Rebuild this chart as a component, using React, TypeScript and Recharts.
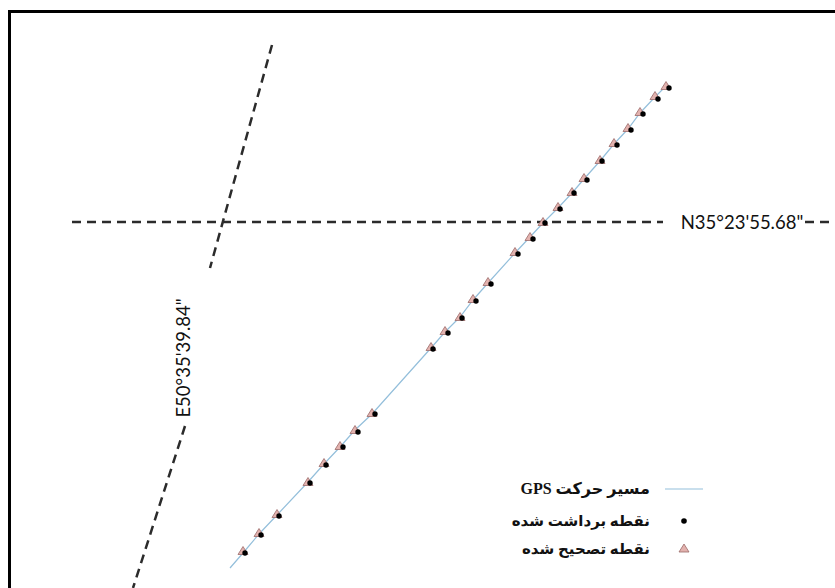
import React from 'react';
import { ScatterChart, Scatter, XAxis, YAxis, Legend } from 'recharts';

// Local plane coordinates (metres east / north of the reference crossing)
const correctedPoints = [
  { x: 448, y: 136 }, { x: 437, y: 126 }, { x: 422, y: 110 }, { x: 410, y: 94 },
  { x: 396, y: 79 }, { x: 382, y: 62 }, { x: 366, y: 44 }, { x: 354, y: 30 },
  { x: 340, y: 15 }, { x: 325, y: 0 }, { x: 312, y: -15 }, { x: 297, y: -30 },
  { x: 270, y: -60 }, { x: 255, y: -77 }, { x: 242, y: -95 }, { x: 227, y: -109 },
  { x: 213, y: -125 }, { x: 154, y: -191 }, { x: 137, y: -208 }, { x: 122, y: -224 },
  { x: 106, y: -241 }, { x: 90, y: -260 }, { x: 59, y: -292 }, { x: 41, y: -311 },
  { x: 25, y: -329 },
];

const collectedPoints = [
  { x: 451, y: 134 }, { x: 440, y: 123 }, { x: 425, y: 108 }, { x: 413, y: 92 },
  { x: 399, y: 77 }, { x: 384, y: 61 }, { x: 369, y: 42 }, { x: 356, y: 29 },
  { x: 342, y: 13 }, { x: 327, y: -1 }, { x: 315, y: -17 }, { x: 300, y: -32 },
  { x: 273, y: -62 }, { x: 258, y: -79 }, { x: 244, y: -96 }, { x: 230, y: -111 },
  { x: 215, y: -127 }, { x: 157, y: -192 }, { x: 140, y: -210 }, { x: 125, y: -225 },
  { x: 108, y: -243 }, { x: 92, y: -261 }, { x: 61, y: -294 }, { x: 43, y: -313 },
  { x: 27, y: -331 },
];

const gpsPath = [
  { x: 12, y: -346 }, { x: 25, y: -331 }, { x: 41, y: -312 }, { x: 59, y: -293 },
  { x: 90, y: -260 }, { x: 106, y: -242 }, { x: 122, y: -225 }, { x: 137, y: -208 },
  { x: 154, y: -192 }, { x: 213, y: -126 }, { x: 227, y: -110 }, { x: 242, y: -95 },
  { x: 255, y: -78 }, { x: 270, y: -61 }, { x: 297, y: -31 }, { x: 312, y: -15 },
  { x: 325, y: -1 }, { x: 340, y: 14 }, { x: 354, y: 29 }, { x: 366, y: 43 },
  { x: 382, y: 61 }, { x: 396, y: 78 }, { x: 410, y: 93 }, { x: 422, y: 109 },
  { x: 437, y: 125 }, { x: 450, y: 138 },
];

const parallelWest = [{ x: -146, y: 0 }, { x: 445, y: 0 }];
const parallelEast = [{ x: 587, y: 0 }, { x: 617, y: 0 }];
const meridianNorth = [{ x: 54, y: 177 }, { x: -8, y: -46 }];
const meridianSouth = [{ x: -33, y: -204 }, { x: -85, y: -366 }];

const latLabelPos = [{ x: 524, y: 0 }];
const lonLabelPos = [{ x: -35, y: -136 }];

const latLabel = 'N35°23\'55.68"';
const lonLabel = 'E50°35\'39.84"';

const seriesNames = {
  path: 'مسیر حرکت GPS',
  collected: 'نقطه برداشت شده',
  corrected: 'نقطه تصحیح شده',
};

const X_DOMAIN = [-218, 617];
const Y_DOMAIN = [-366, 222];

const DASH = { stroke: '#2b2b2b', strokeWidth: 2.5, strokeDasharray: '9 6' };
const PATH_COLOR = '#94bfdb';
const TRI_FILL = '#e3b2ae';
const TRI_STROKE = '#9a6a68';

const Empty = () => <g />;

const Triangle = (p: any) => {
  const { cx, cy } = p;
  if (cx == null || cy == null) return <g />;
  return (
    <polygon
      points={`${cx},${cy - 4.5} ${cx - 5},${cy + 3.5} ${cx + 5},${cy + 3.5}`}
      fill={TRI_FILL}
      stroke={TRI_STROKE}
      strokeWidth={0.8}
    />
  );
};

const Dot = (p: any) => {
  const { cx, cy } = p;
  if (cx == null || cy == null) return <g />;
  return <circle cx={cx} cy={cy} r={2.7} fill="#000" />;
};

const LatText = (p: any) => (
  <text
    x={p.cx}
    y={p.cy}
    textAnchor="middle"
    dominantBaseline="central"
    fontFamily="Lato, 'Open Sans', sans-serif"
    fontSize={18.5}
    fill="#111"
  >
    {latLabel}
  </text>
);

const LonText = (p: any) => (
  <text
    x={p.cx}
    y={p.cy}
    textAnchor="middle"
    dominantBaseline="central"
    fontFamily="Lato, 'Open Sans', sans-serif"
    fontSize={18.5}
    fill="#111"
    transform={`rotate(-90 ${p.cx} ${p.cy})`}
  >
    {lonLabel}
  </text>
);

const LegendBox = () => {
  const textStyle: React.CSSProperties = {
    position: 'absolute',
    right: 70,
    direction: 'rtl',
    whiteSpace: 'nowrap',
    lineHeight: 1,
    transform: 'translateY(-50%)',
    fontFamily: "'Liberation Serif', 'DejaVu Sans', serif",
    fontWeight: 'bold',
    fontSize: 15,
    color: '#111',
  };
  return (
    <div style={{ position: 'relative', width: 210, height: 90 }}>
      <span style={{ ...textStyle, top: 15, fontSize: 16 }}>{seriesNames.path}</span>
      <svg width={210} height={90} style={{ position: 'absolute', left: 0, top: 0 }}>
        <line x1={155} x2={193} y1={15} y2={15} stroke={PATH_COLOR} strokeWidth={1.2} />
        <circle cx={174} cy={47} r={2.8} fill="#000" />
        <polygon points="174,70 169,78 179,78" fill={TRI_FILL} stroke={TRI_STROKE} strokeWidth={0.8} />
      </svg>
      <span style={{ ...textStyle, top: 47 }}>{seriesNames.collected}</span>
      <span style={{ ...textStyle, top: 75 }}>{seriesNames.corrected}</span>
    </div>
  );
};

export default function App() {
  return (
    <div style={{ position: 'absolute', left: 0, top: 0, width: 835, height: 588, overflow: 'hidden', background: '#fff' }}>
      <div
        style={{
          position: 'absolute', left: 8, top: 10, width: 827, height: 578,
          borderLeft: '3px solid #000', borderTop: '3px solid #000', boxSizing: 'border-box',
        }}
      />
      <div style={{ position: 'absolute', left: 0, top: 0 }}>
        <ScatterChart width={835} height={588} margin={{ top: 0, right: 0, bottom: 0, left: 0 }}>
          <XAxis type="number" dataKey="x" domain={X_DOMAIN} hide allowDataOverflow />
          <YAxis type="number" dataKey="y" domain={Y_DOMAIN} hide allowDataOverflow />
          <Scatter data={parallelWest} line={DASH} fill="#2b2b2b" shape={Empty} legendType="none" isAnimationActive={false} />
          <Scatter data={parallelEast} line={DASH} fill="#2b2b2b" shape={Empty} legendType="none" isAnimationActive={false} />
          <Scatter data={meridianNorth} line={DASH} fill="#2b2b2b" shape={Empty} legendType="none" isAnimationActive={false} />
          <Scatter data={meridianSouth} line={DASH} fill="#2b2b2b" shape={Empty} legendType="none" isAnimationActive={false} />
          <Scatter data={latLabelPos} shape={LatText} legendType="none" isAnimationActive={false} />
          <Scatter data={lonLabelPos} shape={LonText} legendType="none" isAnimationActive={false} />
          <Scatter
            name={seriesNames.path}
            data={gpsPath}
            line={{ stroke: PATH_COLOR, strokeWidth: 1.2 }}
            fill={PATH_COLOR}
            shape={Empty}
            isAnimationActive={false}
          />
          <Scatter name={seriesNames.corrected} data={correctedPoints} shape={Triangle} fill={TRI_FILL} isAnimationActive={false} />
          <Scatter name={seriesNames.collected} data={collectedPoints} shape={Dot} fill="#000" isAnimationActive={false} />
          <Legend
            layout="horizontal"
            verticalAlign="middle"
            align="center"
            content={LegendBox}
            wrapperStyle={{ left: 510, top: 474, width: 210, height: 90 }}
          />
        </ScatterChart>
      </div>
    </div>
  );
}
